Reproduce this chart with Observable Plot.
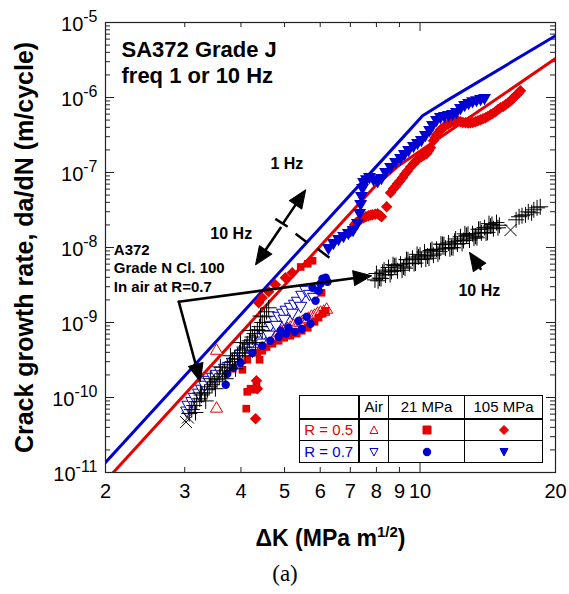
<!DOCTYPE html>
<html><head><meta charset="utf-8">
<script src="https://cdn.jsdelivr.net/npm/d3@7"></script>
<script src="https://cdn.jsdelivr.net/npm/@observablehq/plot@0.6"></script>
<style>
body{margin:0;background:#fff;font-family:"Liberation Sans",Arial,Helvetica,sans-serif;}
#wrap{position:relative;width:569px;height:594px;overflow:hidden;}
#legend{position:absolute;left:299px;top:395px;background:#fff;}
#legend table{border-collapse:collapse;font-size:15px;line-height:1;}
#legend td{border:1px solid #000;padding:0;text-align:center;vertical-align:middle;}
#legend svg{display:block;margin:auto;}
</style></head><body><div id="wrap"></div>
<script>
// ---------------- data (ΔK in MPa√m, da/dN in m/cycle) ----------------
const blueFit = [[2,1.36e-11],[9.28,3.2e-7],[10.13,5.7e-7],[11.39,8.87e-7],[20,6.65e-6]];
const redFit  = [[2,7.7e-12],[7.96,6.65e-8],[8.91,1.2e-7],[20,3.3e-6]];

// A372 Grade N Cl.100, in air, R=0.7
const a372Plus = [[3.07,6.1e-11],[3.11,6.9e-11],[3.15,7.8e-11],[3.19,8.8e-11],[3.24,9.6e-11],[3.27,1.08e-10],[3.32,1.15e-10],[3.37,1.27e-10],[3.40,1.39e-10],[3.45,1.48e-10],[3.49,1.62e-10],[3.54,1.72e-10],[3.58,1.89e-10],[3.64,2.07e-10],[3.68,2.27e-10],[3.73,2.49e-10],[3.77,2.73e-10],[3.83,3.0e-10],[3.87,3.28e-10],[3.93,3.6e-10],[3.97,3.94e-10],[4.03,4.3e-10],[4.07,4.7e-10],[4.13,5.2e-10],[4.18,5.7e-10],[4.24,6.4e-10],[4.29,7.1e-10],[4.35,8.0e-10],[4.40,8.8e-10],[4.46,1.0e-9],[4.51,1.19e-9],[4.56,1.39e-9],[4.61,1.57e-9],[3.17,6.3e-11],[3.34,9.0e-11],[3.51,1.31e-10],[3.70,1.78e-10],[3.89,2.41e-10],[4.09,3.6e-10],[4.31,5.4e-10],[4.46,7.8e-10],[4.20,7.8e-10],[3.99,5.4e-10],[3.79,3.6e-10],[3.60,2.56e-10],[3.42,1.78e-10],[3.25,1.15e-10],[4.42,1.22e-9],
 [7.94,3.7e-9],[8.00,4.5e-9],[8.13,3.9e-9],[8.26,4.7e-9],[8.38,4.3e-9],[8.51,5.4e-9],[8.64,4.8e-9],[8.77,5.7e-9],[8.91,4.9e-9],[9.05,6.0e-9],[9.19,5.5e-9],[9.33,6.9e-9],[9.47,6.1e-9],[9.62,7.2e-9],[9.77,6.2e-9],[9.92,7.5e-9],[10.07,6.9e-9],[10.23,8.7e-9],[10.39,7.7e-9],[10.55,9.1e-9],[10.71,7.9e-9],[10.88,9.5e-9],[11.05,8.8e-9],[11.22,1.10e-8],[11.39,9.8e-9],[11.57,1.15e-8],[11.75,1.0e-8],[11.93,1.21e-8],[12.11,1.11e-8],[12.30,1.39e-8],[12.49,1.24e-8],[12.68,1.45e-8],[12.88,1.26e-8],[13.08,1.53e-8],[13.28,1.41e-8],[13.49,1.75e-8],[13.69,1.57e-8],[13.91,1.84e-8],[14.12,1.59e-8],[14.34,1.93e-8],[14.56,1.78e-8],[14.79,2.15e-8],[15.01,1.98e-8],[8.19,3.85e-9],[8.71,5.9e-9],[9.26,5.3e-9],[9.85,8.1e-9],[10.47,7.2e-9],[11.13,1.11e-8],[11.84,9.9e-9],[12.58,1.52e-8],[13.38,1.35e-8],[14.23,2.08e-8],
 [8.07,3.6e-9],[8.32,5.0e-9],[8.58,4.35e-9],[8.84,5.74e-9],[9.12,4.98e-9],[9.4,6.86e-9],[9.7,6.1e-9],[10.0,7.9e-9],[10.3,7.0e-9],[10.63,9.4e-9],[10.96,8.2e-9],[11.3,1.09e-8],[11.65,9.6e-9],[12.0,1.3e-8],[12.4,1.13e-8],[12.78,1.5e-8],[13.18,1.33e-8],[13.6,1.76e-8],[14.02,1.56e-8],[14.45,2.03e-8],[14.9,1.83e-8],
 [16.35,2.34e-8],[16.6,2.57e-8],[16.85,2.65e-8],[17.15,2.73e-8],[17.4,2.99e-8],[17.7,2.9e-8],[17.9,3.18e-8],[18.2,3.38e-8],[18.5,3.49e-8]];
const a372Times = [[3.02,4.7e-11],[3.05,5.4e-11],[15.89,1.71e-8]];

// SA372 Grade J, R = 0.5
const r05Air = [[3.53,4.2e-10],[3.79,2.43e-10],[3.53,7.1e-11],[4.85,7.3e-10],[4.92,7.5e-10],[4.99,7.75e-10],[5.07,8.2e-10],[5.15,8.5e-10],[5.23,9.0e-10],[5.32,9.3e-10],[5.40,9.9e-10],[5.48,1.02e-9],[5.57,1.09e-9],[5.65,1.12e-9],[5.74,1.19e-9],[5.83,1.23e-9],[5.92,1.31e-9],[6.01,1.35e-9],[6.11,1.39e-9],[6.20,1.48e-9]];
const r05H21 = [[4.11,7.1e-11],[4.03,2.34e-10],[4.13,3.18e-10],[4.13,1.19e-10],[4.26,1.27e-10],[4.33,1.39e-10],[4.40,3.18e-10],[4.35,3.95e-10],[4.20,1.31e-10],[4.46,4.2e-10],[4.56,4.7e-10],[4.70,5.2e-10],[4.85,5.7e-10],[4.99,6.25e-10],[5.15,6.65e-10],[5.32,7.1e-10],[5.46,7.75e-10],[5.63,8.5e-10],[5.83,1.02e-9],[5.95,1.16e-9],[6.07,1.31e-9],[6.04,2.49e-9],[6.17,1.43e-9],[5.43,5.5e-9],[5.63,6.06e-9],[5.77,6.65e-9]];
const r05H105 = [[4.33,1.67e-10],[4.31,5.2e-11],[4.35,1.31e-10],[4.38,1.83e-9],[4.46,2.13e-9],[4.61,2.57e-9],[4.77,3.18e-9],[5.02,3.95e-9],[5.20,4.6e-9],[7.01,1.62e-8],[7.08,1.8e-8],[7.15,2.01e-8],[7.22,2.15e-8],[7.30,2.27e-8],[7.40,2.4e-8],[7.49,2.49e-8],[7.58,2.57e-8],[7.68,2.65e-8],[7.76,2.7e-8],[7.84,2.73e-8],[7.95,2.78e-8],[8.05,2.81e-8],[8.13,2.7e-8],[8.21,2.57e-8],[8.43,3.49e-8],[8.60,5.36e-8],[8.73,6.06e-8],[8.82,6.5e-8],[8.91,7.07e-8],[9.02,7.7e-8],[9.14,8.5e-8],[9.25,9.5e-8],[9.38,1.05e-7],[9.52,1.18e-7],[9.67,1.31e-7],[9.77,1.4e-7],[9.87,1.48e-7],[10.07,1.62e-7],[10.2,1.7e-7],[10.34,1.78e-7],[10.45,1.95e-7],[10.55,2.13e-7],[10.71,2.65e-7],[10.8,2.9e-7],[10.88,3.18e-7],[11.0,3.45e-7],[11.10,3.71e-7],[11.25,3.95e-7],[11.39,4.19e-7],[11.55,4.4e-7],[11.69,4.6e-7],[11.85,4.8e-7],[11.99,4.89e-7],[12.15,4.85e-7],[12.30,4.75e-7],[12.45,4.65e-7],[12.62,4.6e-7],[12.8,4.55e-7],[12.95,4.6e-7],[13.1,4.65e-7],[13.28,4.75e-7],[13.45,4.9e-7],[13.63,5.04e-7],[13.8,5.2e-7],[13.98,5.36e-7],[14.15,5.6e-7],[14.34,5.88e-7],[14.5,6.1e-7],[14.71,6.44e-7],[14.9,6.9e-7],[15.09,7.3e-7],[15.3,7.6e-7],[15.49,8.0e-7],[15.7,8.5e-7],[15.89,9.0e-7],[16.05,9.6e-7],[16.22,1.02e-6],[16.4,1.09e-6],[16.56,1.155e-6],[16.72,1.23e-6]];

// SA372 Grade J, R = 0.7
const r07Air = [[3.03,6.7e-11],[3.05,8.0e-11],[3.11,9.0e-11],[3.15,1.02e-10],[3.22,1.16e-10],[3.27,1.31e-10],[3.32,1.48e-10],[3.39,1.72e-10],[3.46,1.89e-10],[3.53,2.07e-10],[3.60,2.27e-10],[3.68,2.49e-10],[3.75,2.64e-10],[3.83,2.99e-10],[3.91,3.49e-10],[3.99,3.82e-10],[4.07,4.06e-10],[4.16,4.6e-10],[4.22,5.36e-10],[4.31,6.06e-10],[4.40,6.45e-10],[4.49,7.07e-10],[4.58,8.0e-10],[4.65,9.3e-10],[4.75,1.09e-9],[4.85,1.23e-9],[4.95,1.35e-9],[5.04,1.48e-9],[5.15,1.62e-9],[5.26,1.78e-9],[5.34,1.95e-9],[5.46,2.34e-9],[5.57,2.73e-9],[5.68,2.41e-9],[5.80,2.2e-9],[5.43,1.67e-9],[5.20,1.35e-9],[4.99,1.12e-9],[4.79,9.3e-10],[4.61,6.9e-10],[4.42,5.4e-10],[4.24,4.2e-10],[4.07,3.5e-10],[3.91,2.9e-10]];
const r07H21 = [[3.70,1.48e-10],[3.73,2.07e-10],[3.85,2.49e-10],[3.99,2.9e-10],[4.24,3.95e-10],[4.46,4.9e-10],[4.65,5.7e-10],[4.85,6.45e-10],[5.04,7.1e-10],[5.26,7.5e-10],[5.46,8.2e-10],[5.71,9.6e-10],[5.86,1.95e-9],[5.95,2.65e-9],[6.01,3.28e-9],[6.07,3.83e-9],[6.17,3.95e-9],[6.23,3.49e-9],[5.77,2.9e-9],[5.60,1.19e-9],[5.37,1.05e-9],[5.10,8.5e-10],[4.90,7.75e-10]];
const r07H105 = [[6.26,9.9e-9],[6.42,1.155e-8],[6.59,1.31e-8],[6.76,1.43e-8],[6.93,1.57e-8],[7.10,1.72e-8],[7.26,2.14e-8],[7.34,2.9e-8],[7.38,3.83e-8],[7.41,4.89e-8],[7.45,6.25e-8],[7.49,7.52e-8],[7.60,8.2e-8],[7.72,8.8e-8],[7.88,8.2e-8],[8.05,7.7e-8],[8.21,8.5e-8],[8.38,1.02e-7],[8.60,1.19e-7],[8.82,1.39e-7],[9.05,1.57e-7],[9.23,1.78e-7],[9.43,2.01e-7],[9.67,2.27e-7],[9.87,2.49e-7],[10.07,2.73e-7],[10.28,3.18e-7],[10.50,3.71e-7],[10.66,4.33e-7],[10.88,5.04e-7],[11.10,5.53e-7],[11.33,5.70e-7],[11.57,5.88e-7],[11.81,6.06e-7],[12.05,6.44e-7],[12.30,7.3e-7],[12.56,8.0e-7],[12.82,8.5e-7],[13.08,9.0e-7],[13.35,9.3e-7],[13.63,9.6e-7],[13.91,9.9e-7]];

// axes
const xDomain = [2, 20];
const yDomain = [1e-11, 1e-5];
const xTickLabels = [2,3,4,5,6,7,8,9,10,20];
const xMinorTicks = [3,4,5,6,7,8,9];
const xMajorTicks = [10];
const yDecades = [1e-11,1e-10,1e-9,1e-8,1e-7,1e-6,1e-5];
const yMinor = yDecades.slice(0,-1).flatMap(d => [2,3,4,5,6,7,8,9].map(m => m*d));

// annotations (data coordinates)
const arrows = [
  {x1:4.97,y1:2.13e-8,x2:5.57,y2:5.87e-8},
  {x1:4.90,y1:1.83e-8,x2:4.31,y2:5.88e-9},
  {x1:2.91,y1:1.89e-9,x2:7.80,y2:4.2e-9},
  {x1:2.91,y1:1.89e-9,x2:3.25,y2:1.62e-10},
  {x1:13.63,y1:5.2e-9,x2:12.88,y2:8.6e-9}
];
const marksBreak = [
  {x1:4.77,y1:2.41e-8,x2:5.08,y2:1.89e-8},
  {x1:5.29,y1:1.52e-8,x2:5.62,y2:1.16e-8},
  {x1:5.92,y1:9.6e-9,x2:6.29,y2:7.3e-9}
];
const notes = [
  {x:4.65, y:1.12e-7, text:"1 Hz"},
  {x:3.42, y:1.31e-8, text:"10 Hz"},
  {x:12.17, y:2.27e-9, text:"10 Hz"}
];
const a372Note = [{x:2.087, y:1.19e-8, text:"A372\nGrade N Cl. 100\nIn air at R=0.7"}];

// ---------------- drawing ----------------
const RED = "#e60000", BLUE = "#0000d2";
const W = 569, H = 594, ML = 105, MR = 14, MT = 22, MB = 122;
const sx = Plot.scale({x:{type:"log", domain:xDomain, range:[ML, W-MR]}});
const sy = Plot.scale({y:{type:"log", domain:yDomain, range:[H-MB, MT]}});
const angle = d => Math.atan2(sx.apply(d.x2)-sx.apply(d.x1), -(sy.apply(d.y2)-sy.apply(d.y1))) * 180 / Math.PI;

const triDown = {draw(ctx, size){ const y = -Math.sqrt(size/(Math.sqrt(3)*3)); ctx.moveTo(0,-y*2); ctx.lineTo(-Math.sqrt(3)*y, y); ctx.lineTo(Math.sqrt(3)*y, y); ctx.closePath(); }};
const head = {draw(ctx, l, r){ ctx.moveTo(-r,0); ctx.lineTo(0,-l); ctx.lineTo(r,0); ctx.closePath(); }};
const pw = 450, ph = 450;

const chart = Plot.plot({
  width: W, height: H,
  marginLeft: ML, marginRight: MR, marginTop: MT, marginBottom: MB,
  x: {type:"log", domain:xDomain, axis:null},
  y: {type:"log", domain:yDomain, axis:null},
  style: {fontFamily:"'Liberation Sans', Arial, Helvetica, sans-serif", background:"#fff", color:"#000"},
  marks: [
    Plot.ruleY(yMinor, {y:d=>d, insetRight: pw-5, stroke:"#222"}),
    Plot.ruleY(yMinor, {y:d=>d, insetLeft: pw-5, stroke:"#222"}),
    Plot.ruleY(yDecades, {y:d=>d, insetRight: pw-9, stroke:"#222"}),
    Plot.ruleY(yDecades, {y:d=>d, insetLeft: pw-9, stroke:"#222"}),
    Plot.ruleX(xMinorTicks, {x:d=>d, insetTop: ph-5, stroke:"#222"}),
    Plot.ruleX(xMinorTicks, {x:d=>d, insetBottom: ph-5, stroke:"#222"}),
    Plot.ruleX(xMajorTicks, {x:d=>d, insetTop: ph-9, stroke:"#222"}),
    Plot.ruleX(xMajorTicks, {x:d=>d, insetBottom: ph-9, stroke:"#222"}),
    Plot.line(blueFit, {x:d=>d[0], y:d=>d[1], stroke:BLUE, strokeWidth:3, clip:true}),
    Plot.line(redFit, {x:d=>d[0], y:d=>d[1], stroke:RED, strokeWidth:3, clip:true}),
    Plot.dot(r05Air, {x:d=>d[0], y:d=>d[1], symbol:"triangle", r:4.5, fill:"#fff", stroke:RED, strokeWidth:1}),
    Plot.dot(r07Air, {x:d=>d[0], y:d=>d[1], symbol:triDown, r:4.5, fill:"#fff", stroke:BLUE, strokeWidth:1}),
    Plot.dot(r05H21, {x:d=>d[0], y:d=>d[1], symbol:"square", r:4.3, fill:RED}),
    Plot.dot(r07H21, {x:d=>d[0], y:d=>d[1], symbol:"circle", r:4.2, fill:BLUE}),
    Plot.dot(r05H105, {x:d=>d[0], y:d=>d[1], symbol:"diamond2", r:4.2, fill:RED, stroke:RED}),
    Plot.dot(r07H105, {x:d=>d[0], y:d=>d[1], symbol:triDown, r:4.8, fill:BLUE}),
    Plot.dot(a372Plus, {x:d=>d[0], y:d=>d[1], symbol:"plus", r:5.2, stroke:"#000", strokeWidth:1}),
    Plot.dot(a372Times, {x:d=>d[0], y:d=>d[1], symbol:"times", r:5.5, stroke:"#000", strokeWidth:1}),
    Plot.link(marksBreak, {x1:"x1", y1:"y1", x2:"x2", y2:"y2", stroke:"#000", strokeWidth:2.5}),
    Plot.arrow(arrows, {x1:"x1", y1:"y1", x2:"x2", y2:"y2", headLength:0, insetEnd:13, stroke:"#000", strokeWidth:2.6}),
    Plot.vector(arrows, {x:"x2", y:"y2", rotate:angle, length:18, r:7.5, anchor:"end", shape:head, fill:"#000", stroke:"#000", strokeWidth:1}),
    Plot.text(notes, {x:"x", y:"y", text:"text", textAnchor:"start", lineAnchor:"bottom", fontSize:16, fontWeight:"bold"}),
    Plot.text(a372Note, {x:"x", y:"y", text:"text", textAnchor:"start", lineAnchor:"top", lineHeight:1.233, fontSize:15, fontWeight:"bold"}),
    Plot.text(["SA372 Grade J"], {frameAnchor:"top-left", text:d=>d, dx:16, dy:34, textAnchor:"start", lineAnchor:"bottom", fontSize:22, fontWeight:"bold"}),
    Plot.text(["freq 1 or 10 Hz"], {frameAnchor:"top-left", text:d=>d, dx:16, dy:60, textAnchor:"start", lineAnchor:"bottom", fontSize:22, fontWeight:"bold"}),
    Plot.text(yDecades, {y:d=>d, frameAnchor:"left", text:d=>"10^"+Math.round(Math.log10(d)), dx:-8, dy:2, textAnchor:"end", lineAnchor:"middle", fontSize:20}),
    Plot.text(xTickLabels, {x:d=>d, frameAnchor:"bottom", text:d=>String(d), dy:11, textAnchor:"middle", lineAnchor:"top", fontSize:20}),
    Plot.text(["Crack growth rate, da/dN (m/cycle)"], {frameAnchor:"left", text:d=>d, rotate:-90, dx:-81, textAnchor:"middle", lineAnchor:"middle", fontSize:25, fontWeight:"bold"}),
    Plot.text(["ΔK (MPa m^1/2)"], {frameAnchor:"bottom", text:d=>d, dy:73, textAnchor:"middle", lineAnchor:"bottom", fontSize:23, fontWeight:"bold"}),
    Plot.text(["(a)"], {frameAnchor:"bottom", text:d=>d, dx:-45.5, dy:108, textAnchor:"middle", lineAnchor:"bottom", fontSize:23, fontFamily:"'Liberation Serif', 'Times New Roman', serif"}),
    Plot.frame({stroke:"#222", strokeWidth:1.2})
  ]
});

// superscripts (turn "a^b" into a tspan)
const NS = "http://www.w3.org/2000/svg";
chart.querySelectorAll("text").forEach(t => {
  const s0 = t.textContent;
  if (!s0.includes("^")) return;
  const isX = s0.startsWith("ΔK");
  const [b, rest] = s0.split("^");
  t.textContent = b;
  const s = document.createElementNS(NS, "tspan");
  if (isX) {
    s.setAttribute("dy", "-9"); s.setAttribute("font-size", "15"); s.textContent = rest.replace(")", "");
    const c = document.createElementNS(NS, "tspan");
    c.setAttribute("dy", "9"); c.textContent = ")";
    t.appendChild(s); t.appendChild(c);
  } else {
    s.setAttribute("dy", "-9"); s.setAttribute("font-size", "16"); s.textContent = rest;
    t.appendChild(s);
  }
});

const wrap = document.getElementById("wrap");
wrap.appendChild(chart);

// legend table
const sym = (shape, color, filled) => {
  const p = {
    up: "M5,1 L9,8.5 L1,8.5 Z",
    down: "M1,1.5 L9,1.5 L5,9 Z",
    square: "M1,1 H9 V9 H1 Z",
    diamond: "M5,0.5 L9.5,5 L5,9.5 L0.5,5 Z"
  }[shape];
  if (shape === "circle") return `<svg width="10" height="10"><circle cx="5" cy="5" r="4.2" fill="${color}"/></svg>`;
  return `<svg width="10" height="10"><path d="${p}" fill="${filled ? color : "#fff"}" stroke="${color}" stroke-width="1"/></svg>`;
};
const legendRows = [
  {label:"R = 0.5", color:RED, air:["up",false], h21:["square",true], h105:["diamond",true]},
  {label:"R = 0.7", color:BLUE, air:["down",false], h21:["circle",true], h105:["down",true]}
];
const legendCols = ["Air", "21 MPa", "105 MPa"];
let html = `<table><colgroup><col style="width:59px"><col style="width:30px"><col style="width:76px"><col style="width:78px"></colgroup>`;
html += `<tr style="height:23px"><td style="border-right:2px solid #000;border-bottom:2.5px solid #000"></td>` +
  legendCols.map(c => `<td style="border-bottom:2.5px solid #000">${c}</td>`).join("") + `</tr>`;
legendRows.forEach(r => {
  html += `<tr style="height:22px"><td style="border-right:2px solid #000;color:${r.color}">${r.label}</td>` +
    [r.air, r.h21, r.h105].map(s => `<td>${sym(s[0], r.color, s[1])}</td>`).join("") + `</tr>`;
});
html += `</table>`;
const lg = document.createElement("div");
lg.id = "legend"; lg.innerHTML = html;
wrap.appendChild(lg);
</script></body></html>
